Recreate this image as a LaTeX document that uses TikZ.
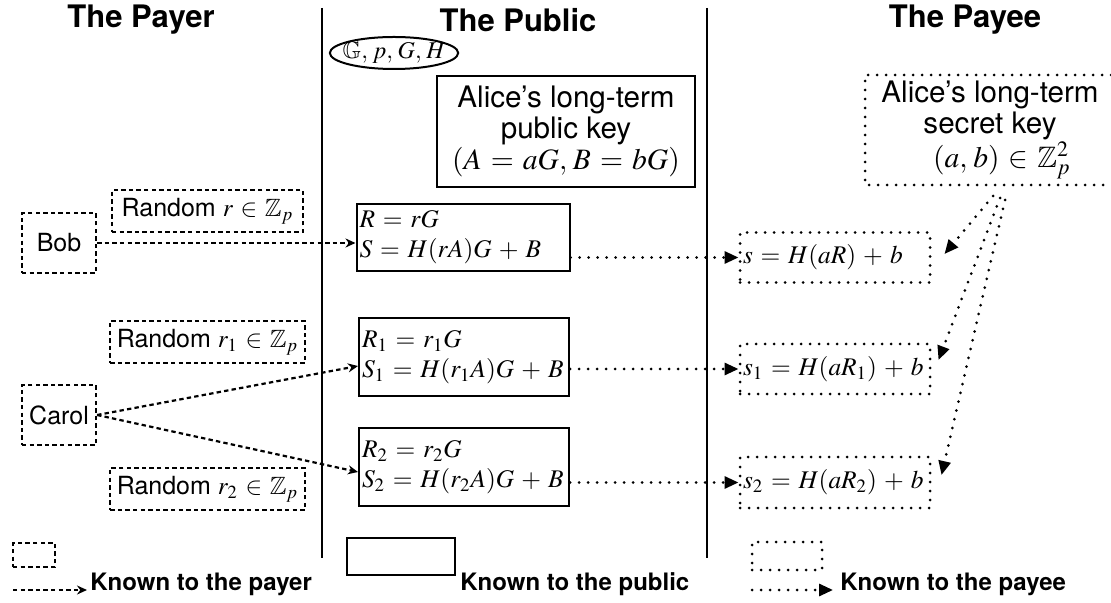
\documentclass[tikz,border=0pt]{standalone}
\usepackage{mathptmx}
\usepackage{amssymb}
\usepackage[no-math]{fontspec}
\setmainfont{TeX Gyre Heros}
\usetikzlibrary{positioning,arrows.meta,shapes.geometric}

\thinmuskip=3.5mu
\medmuskip=5mu plus 2mu minus 2mu
\thickmuskip=5.5mu plus 3mu
\relpenalty=10000
\binoppenalty=10000

\tikzset{
  payerbox/.style={draw, line width=1.1pt, dash pattern=on 2.2pt off 1.6pt},
  publicbox/.style={draw, line width=1pt},
  payeebox/.style={draw, line width=1.5pt, line cap=round, dash pattern=on 0pt off 4.5pt},
  payerarrow/.style={payerbox, -{Stealth[length=5pt,width=4.5pt]}},
  payeearrow/.style={payeebox, -{Triangle[length=7pt,width=6pt]}},
  sepline/.style={line width=1pt}
}

\begin{document}
\begin{tikzpicture}[x=0.5pt, y=-0.5pt,
                    every node/.style={font=\fontsize{14.8}{15.5}\selectfont},
                    headnode/.style={font=\fontsize{15.5}{18}\selectfont\bfseries},
                    payernode/.style={payerbox, font=\fontsize{12.5}{15}\selectfont},
                    mathbox/.style={font=\fontsize{12.7}{15}\selectfont, inner xsep=1.5pt, align=left},
                    legendtext/.style={font=\fontsize{12}{14}\selectfont\bfseries, inner sep=0pt}
                ]
                    \useasboundingbox (0,0) rectangle (1111,603);
                    % column titles and separators
                    \node[headnode] (payer) at (141,20) {The Payer};
                    \node[headnode] (public) at (518,20) {The Public};
                    \node[headnode] (payee) at (965,20) {The Payee};
                    \draw[sepline] (322,8) -- (322,558);
                    \draw[sepline] (707,8) -- (707,558);

                    % public parameters and keys
                    \node[draw, ellipse, line width=1pt, font=\fontsize{12}{14}\selectfont, inner xsep=-3pt, inner ysep=0.3pt] (params) at (394,53) {$\mathbb{G}, p, G, H$};
                    \node[publicbox, minimum width=129pt, minimum height=55.5pt, align=center] (pubkey) at (566,131.5) {Alice's long-term\\public key\\$(A=aG, B=bG)$};
                    \node[align=center] (seckey) at (990,130) {Alice's long-term\\secret key\\\hspace*{0.8em}$(a,b)\in\mathbb{Z}_p^2$};
                    \draw[payeebox] (1111,75) -| (865,185) -- (1111,185);

                    % payers
                    \node[payernode, minimum width=37pt, minimum height=30pt] (bob) at (59,243) {Bob};
                    \node[payernode, minimum width=37pt, minimum height=30pt] (carol) at (59,415) {Carol};
                    \node[payernode, minimum width=95.5pt, minimum height=21pt] (randr) at (207.5,211) {Random $r\in\mathbb{Z}_p$};
                    \node[payernode, minimum width=95.5pt, minimum height=21pt] (randrone) at (207.5,342) {Random $r_1\in\mathbb{Z}_p$};
                    \node[payernode, minimum width=95.5pt, minimum height=21pt] (randrtwo) at (207.5,489) {Random $r_2\in\mathbb{Z}_p$};

                    % published values
                    \node[publicbox, mathbox, text width=103.5pt, minimum height=32.5pt] (rbox) at (463,237.5) {$R = rG$\\$S = H(rA)G + B$};
                    \node[publicbox, mathbox, text width=102pt, minimum height=39pt] (rone) at (464,357) {$R_1 = r_1G$\\$S_1 = H(r_1A)G + B$};
                    \node[publicbox, mathbox, text width=102pt, minimum height=39pt] (rtwo) at (464,467) {$R_2 = r_2G$\\$S_2 = H(r_2A)G + B$};

                    % payee side
                    \node[payeebox, mathbox, text width=92pt, minimum height=25pt] (sbox) at (835,257.5) {$s = H(aR) + b$};
                    \node[payeebox, mathbox, text width=92pt, minimum height=25pt] (sone) at (835,369) {$s_1 = H(aR_1) + b$};
                    \node[payeebox, mathbox, text width=92pt, minimum height=25.5pt] (stwo) at (835,482.5) {$s_2 = H(aR_2) + b$};

                    % connectors
                    \draw[payerarrow] (bob) -- (bob -| rbox.west);
                    \draw[payerarrow] (carol.east) -- ([yshift=-4.5pt]rone.west);
                    \draw[payerarrow] (carol.east) -- ([yshift=-2.5pt]rtwo.west);
                    \draw[payeearrow] (sbox.west -| rbox.east) -- (sbox.west);
                    \draw[payeearrow] (sone.west -| rone.east) -- (sone.west);
                    \draw[payeearrow] (stwo.west -| rtwo.east) -- (stwo.west);
                    \coordinate (keyout) at (993,196);
                    \coordinate (keyoutone) at (1000,198);
                    \coordinate (keyouttwo) at (1005,200);
                    \draw[payeearrow] (keyout) -- ([xshift=6.5pt,yshift=1.75pt]sbox.east);
                    \draw[payeearrow] (keyoutone) -- ([xshift=3.5pt,yshift=4.5pt]sone.east);
                    \draw[payeearrow] (keyouttwo) -- ([xshift=5pt,yshift=3.75pt]stwo.east);

                    % legend
                    \node[payerbox, minimum width=21pt, minimum height=12pt] (payerlegend) at (34,555) {};
                    \coordinate (payerstart) at (13,590);
                    \coordinate (payerend) at (87,590);
                    \draw[payerarrow] (payerstart) -- (payerend);
                    \node[legendtext, anchor=west] (payerkey) at (90,584) {Known to the payer};
                    \node[publicbox, minimum width=54pt, minimum height=18.5pt] (publiclegend) at (401,556.5) {};
                    \node[legendtext, anchor=west] (publickey) at (460,584) {Known to the public};
                    \node[payeebox, minimum width=35pt, minimum height=14pt] (payeelegend) at (787,556) {};
                    \coordinate (payeestart) at (752,590);
                    \coordinate (payeeend) at (833,590);
                    \draw[payeearrow] (payeestart) -- (payeeend);
                    \node[legendtext, anchor=west] (payeekey) at (840,584) {Known to the payee};
                \end{tikzpicture}
\end{document}
